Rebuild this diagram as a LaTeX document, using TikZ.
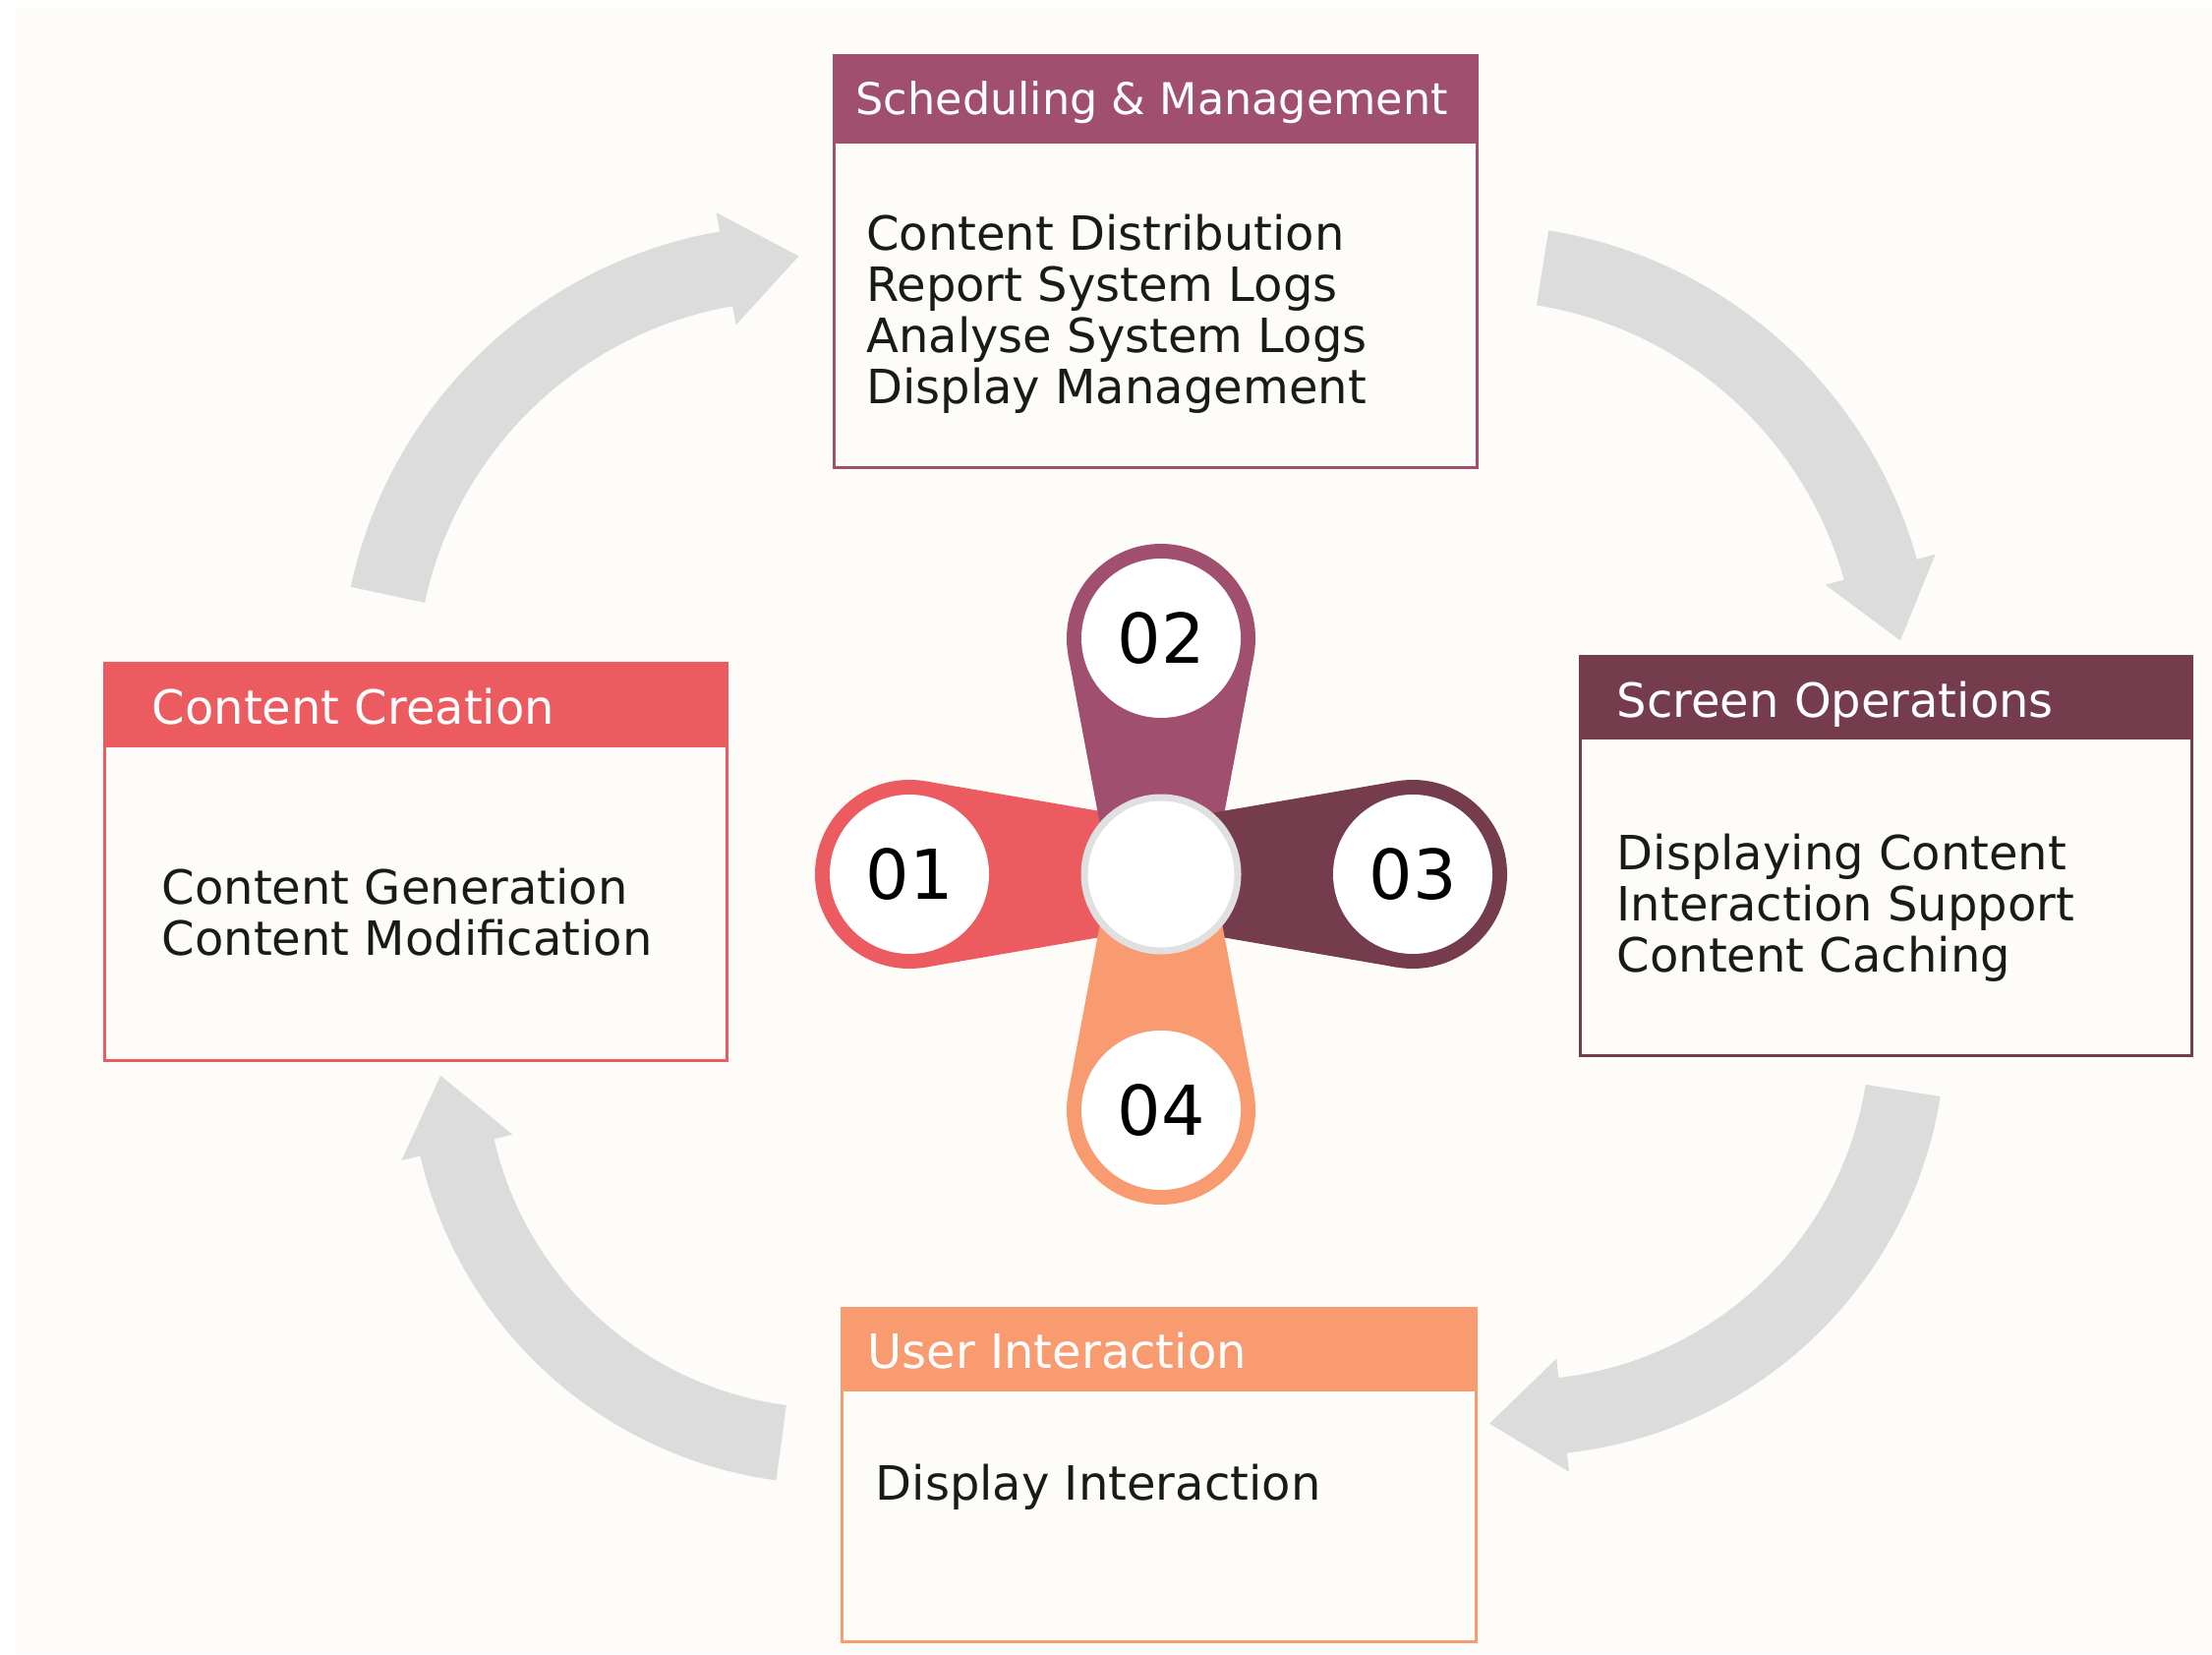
\documentclass[tikz,border=0pt]{standalone}
\usepackage{fontspec}
\setmainfont{DejaVu Sans}
\usetikzlibrary{calc}

\definecolor{creation}{HTML}{EB5B5F}
\definecolor{sched}{HTML}{A0506E}
\definecolor{screen}{HTML}{743C4C}
\definecolor{userint}{HTML}{F89B70}
\definecolor{arrowgrey}{HTML}{DCDCDC}
\definecolor{paper}{HTML}{FDFCF8}
\definecolor{hubring}{HTML}{E0E0E0}
\definecolor{ink}{HTML}{1A1A1A}

\begin{document}
\begin{tikzpicture}
	\def \hubx{11.81}
	\def \huby{7.93}
	\def \shaft{0.385}
	\def \barb{0.58}
	\def \headlen{0.75}

	\tikzstyle{box-frame}=[draw, line width=0.03cm, fill=paper, inner sep=0pt]
	\tikzstyle{box-head}=[draw, line width=0.03cm, inner sep=0pt, anchor=north]
	\tikzstyle{head-text}=[anchor=base west, inner sep=0pt, text=white, font=\fontsize{13.66}{14.8}\selectfont]
	\tikzstyle{body-text}=[anchor=north west, inner sep=0pt, align=left, text=ink, font=\fontsize{13.66}{14.8}\selectfont]
	\tikzstyle{petal-core}=[circle, fill=white, minimum size=1.62cm, inner sep=0pt, text=black, font=\fontsize{19.9}{22}\selectfont]
	\tikzstyle{hub}=[circle, draw=hubring, line width=0.07cm, fill=white, minimum size=1.56cm, inner sep=0pt]

	% curved grey arrow: centre, radius, start angle, end angle
	\def\cyclearrow#1#2#3#4{%
		\pgfmathsetmacro{\arrout}{#2+\shaft}
		\pgfmathsetmacro{\arrin}{#2-\shaft}
		\pgfmathsetmacro{\barbout}{#2+\barb}
		\pgfmathsetmacro{\barbin}{#2-\barb}
		\pgfmathsetmacro{\tipang}{#4-atan(\headlen/#2)}
		\pgfmathsetmacro{\tiprad}{sqrt(#2*#2+\headlen*\headlen)}
		\fill[arrowgrey] ($(#1)+(#3:\arrout)$) arc[start angle=#3, end angle=#4, radius=\arrout]
			-- ($(#1)+(#4:\barbout)$) -- ($(#1)+(\tipang:\tiprad)$) -- ($(#1)+(#4:\barbin)$)
			-- ($(#1)+(#4:\arrin)$) arc[start angle=#4, end angle=#3, radius=\arrin] -- cycle;
	}
	% petal: angle, distance, colour
	\def\petal#1#2#3{%
		\begin{scope}[shift={(hubc)}, rotate=#1]
			\fill[#3] (0.5,0.62) -- (#2-0.17,0.945) -- (#2-0.17,-0.945) -- (0.5,-0.62) -- cycle;
			\fill[#3] (#2,0) circle (0.96);
		\end{scope}
	}

	\useasboundingbox (0,0) rectangle (22.5,16.82);
	\fill[white] (0,0) rectangle (22.5,16.82);
	\fill[paper] (0.16,0) rectangle (22.5,16.74);

	% arrows
	\coordinate (a1c) at (8.12,9.88);
	\coordinate (a2c) at (15.015,9.88);
	\coordinate (a3c) at (15.456,6.353);
	\coordinate (a4c) at (8.469,6.033);
	\cyclearrow{a1c}{4.27}{167.95}{99.9}
	\cyclearrow{a2c}{4.27}{80.9}{15.6}
	\cyclearrow{a3c}{3.95}{-9.07}{-83.6}
	\cyclearrow{a4c}{3.92}{-97.66}{-167}

	% boxes
	\node[box-frame, draw=creation, minimum width=6.33cm, minimum height=4.04cm] (cc) at (4.225,8.06) {};
	\node[box-head, draw=creation, fill=creation, minimum width=6.33cm, minimum height=0.84cm] (cc-head) at (cc.north) {};
	\node[head-text] (cc-title) at (1.54,9.46) {Content Creation};
	\node[body-text] (cc-items) at (1.64,8.00) {Content Generation\\Content Modification};

	\node[box-frame, draw=sched, minimum width=6.54cm, minimum height=4.19cm] (sm) at (11.75,14.155) {};
	\node[box-head, draw=sched, fill=sched, minimum width=6.54cm, minimum height=0.88cm] (sm-head) at (sm.north) {};
	\node[head-text, font=\fontsize{12.66}{14}\selectfont] (sm-title) at (8.70,15.65) {Scheduling \& Management};
	\node[body-text] (sm-items) at (8.806,14.65) {Content Distribution\\Report System Logs\\Analyse System Logs\\Display Management};

	\node[box-frame, draw=screen, minimum width=6.22cm, minimum height=4.06cm] (so) at (19.18,8.12) {};
	\node[box-head, draw=screen, fill=screen, minimum width=6.22cm, minimum height=0.83cm] (so-head) at (so.north) {};
	\node[head-text] (so-title) at (16.44,9.53) {Screen Operations};
	\node[body-text] (so-items) at (16.44,8.35) {Displaying Content\\Interaction Support\\Content Caching};

	\node[box-frame, draw=userint, minimum width=6.45cm, minimum height=3.39cm] (ui) at (11.79,1.825) {};
	\node[box-head, draw=userint, fill=userint, minimum width=6.45cm, minimum height=0.83cm] (ui-head) at (ui.north) {};
	\node[head-text] (ui-title) at (8.82,2.91) {User Interaction};
	\node[body-text] (ui-items) at (8.90,1.94) {Display Interaction};

	% centre flower
	\coordinate (hubc) at (\hubx,\huby);
	\petal{180}{2.56}{creation}
	\petal{90}{2.40}{sched}
	\petal{0}{2.56}{screen}
	\petal{270}{2.40}{userint}
	\node[hub] (hub) at (hubc) {};

	\node[petal-core] (n01) at ($(hubc)+(180:2.56)$) {01};
	\node[petal-core] (n02) at ($(hubc)+(90:2.40)$) {02};
	\node[petal-core] (n03) at ($(hubc)+(0:2.56)$) {03};
	\node[petal-core] (n04) at ($(hubc)+(270:2.40)$) {04};
\end{tikzpicture}
\end{document}
